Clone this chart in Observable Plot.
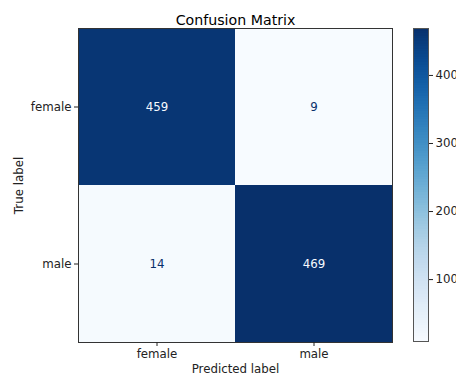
<!DOCTYPE html>
<html><head><meta charset="utf-8">
<script src="https://cdn.jsdelivr.net/npm/d3@7"></script>
<script src="https://cdn.jsdelivr.net/npm/@observablehq/plot@0.6"></script>
<style>
body{margin:0;background:#fff;overflow:hidden;}
#wrap{position:relative;width:456px;height:378px;overflow:hidden;font-family:"DejaVu Sans",sans-serif;}
#wrap svg{position:absolute;top:0;overflow:visible;}
</style></head>
<body><div id="wrap"></div>
<script>
const labels = ["female", "male"];
const trueLabels = ["female", "female", "male", "male"];
const predLabels = ["female", "male", "female", "male"];
const counts = [459, 9, 14, 469];
const cbTicks = [100, 200, 300, 400];
const title = "Confusion Matrix";

const data = counts.map((v, i) => ({t: trueLabels[i], p: predLabels[i], v}));
const vmin = d3.min(counts), vmax = d3.max(counts);
const mid = (vmin + vmax) / 2;
const dark = "#08306b", light = "#f7fbff";
const font = "DejaVu Sans, sans-serif";
const fs = 11.8;

const main = Plot.plot({
  width: 400, height: 378,
  marginLeft: 78, marginRight: 8, marginTop: 28, marginBottom: 36,
  style: {fontFamily: font, fontSize: fs + "px", color: "#222", background: "transparent"},
  x: {domain: labels, padding: 0},
  y: {domain: labels, padding: 0},
  color: {type: "linear", scheme: "blues", domain: [vmin, vmax]},
  marks: [
    Plot.cell(data, {x: "p", y: "t", fill: "v", inset: 0}),
    Plot.text(data, {x: "p", y: "t", text: d => String(d.v), fontSize: fs,
      fill: d => d.v > mid ? light : dark}),
    Plot.frame({stroke: "#333", strokeWidth: 1}),
    Plot.axisX({tickSize: 4, tickPadding: 3, label: "Predicted label", labelAnchor: "center", labelArrow: "none", labelOffset: 30, fontSize: fs}),
    Plot.axisY({tickSize: 4, tickPadding: 3, label: "True label", labelAnchor: "center", labelArrow: "none", labelOffset: 64, fontSize: fs}),
    Plot.text([title], {frameAnchor: "top", dy: -14, fontSize: 14.2, fill: "#000"})
  ]
});
main.style.left = "0px";

const n = 120;
const step = (vmax - vmin) / n;
const steps = d3.range(n).map(i => vmin + i * step);
const cb = Plot.plot({
  width: 56, height: 378,
  marginLeft: 13, marginRight: 28, marginTop: 28, marginBottom: 37,
  style: {fontFamily: font, fontSize: fs + "px", color: "#222", background: "transparent"},
  x: {axis: null, domain: [0, 1]},
  y: {domain: [vmin, vmax], axis: null},
  color: {type: "linear", scheme: "blues", domain: [vmin, vmax]},
  marks: [
    Plot.rect(steps, {x1: 0, x2: 1, y1: d => d, y2: d => Math.min(vmax, d + step * 2), fill: d => d + step / 2, shapeRendering: "crispEdges"}),
    Plot.frame({stroke: "#555", strokeWidth: 1}),
    Plot.axisY({anchor: "right", ticks: cbTicks, tickSize: 4, tickPadding: 3, label: null, fontSize: fs})
  ]
});
cb.style.left = "400px";

const wrap = document.getElementById("wrap");
wrap.appendChild(main);
wrap.appendChild(cb);
</script></body></html>
